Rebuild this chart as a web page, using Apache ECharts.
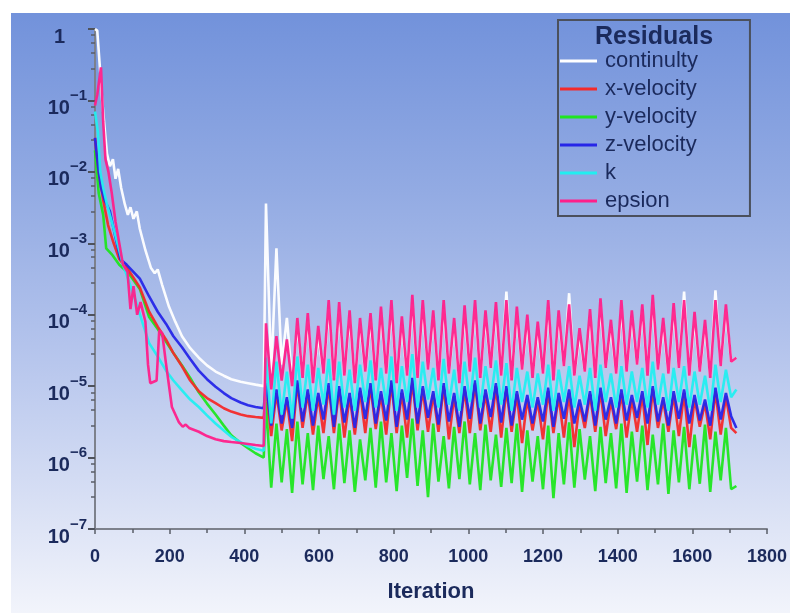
<!DOCTYPE html>
<html>
<head>
<meta charset="utf-8">
<script src="https://cdn.jsdelivr.net/npm/echarts/dist/echarts.min.js"></script>
<style>
  html, body { margin: 0; padding: 0; background: #ffffff; }
  #chart { position: absolute; left: 11px; top: 13px; width: 779px; height: 600px; }
</style>
</head>
<body>
<div id="chart"></div>
<script>
// ---- Residual history: initial steady run (ramp) then the transient cycles ----

// Ramp phase: [iteration, residual]
const continuityRamp = [[0,1.0],[6,0.95],[12,0.35],[18,0.12],[26,0.04],[32,0.018],[40,0.012],[48,0.015],[55,0.008],[62,0.011],[70,0.006],[80,0.0035],[88,0.0025],[95,0.0032],[103,0.0022],[112,0.0028],[120,0.0016],[135,8e-4],[150,4.5e-4],[160,3.8e-4],[168,4.3e-4],[180,2.6e-4],[198,1.3e-4],[215,8e-5],[233,5e-5],[255,3.4e-5],[278,2.5e-5],[300,1.95e-5],[323,1.6e-5],[345,1.4e-5],[365,1.25e-5],[390,1.15e-5],[410,1.1e-5],[430,1.05e-5],[452,1.0e-5]];
const xVelocityRamp = [[0,0.03],[10,0.01],[22,0.004],[35,0.0018],[50,0.001],[65,6e-4],[90,4.2e-4],[120,2.4e-4],[145,1.1e-4],[168,6.8e-5],[190,4.5e-5],[210,2.9e-5],[233,1.9e-5],[255,1.2e-5],[278,8.5e-6],[300,6.8e-6],[323,5.8e-6],[345,4.9e-6],[365,4.4e-6],[390,4.0e-6],[410,3.8e-6],[430,3.7e-6],[452,3.6e-6]];
const yVelocityRamp = [[0,0.02],[10,0.005],[22,0.0025],[30,8.5e-4],[45,7e-4],[65,5e-4],[90,3.8e-4],[120,2.3e-4],[145,9.3e-5],[168,6.3e-5],[190,4.2e-5],[210,2.9e-5],[233,1.95e-5],[255,1.3e-5],[278,8.2e-6],[300,5.7e-6],[323,4e-6],[345,2.8e-6],[365,2.05e-6],[390,1.6e-6],[410,1.35e-6],[430,1.15e-6],[452,1.0e-6]];
const zVelocityRamp = [[0,0.03],[8,0.012],[16,0.006],[26,0.004],[40,0.0028],[55,0.0012],[68,6e-4],[85,5e-4],[120,3.2e-4],[145,1.8e-4],[168,1.1e-4],[190,7.5e-5],[210,5e-5],[233,3.5e-5],[255,2.4e-5],[278,1.65e-5],[300,1.25e-5],[323,9.8e-6],[345,8e-6],[365,6.8e-6],[390,5.9e-6],[410,5.4e-6],[430,5.1e-6],[452,4.9e-6]];
const kRamp = [[0,0.07],[8,0.035],[14,0.01],[22,0.006],[32,0.0035],[45,0.002],[60,0.001],[75,5e-4],[90,3e-4],[110,1.5e-4],[130,7e-5],[145,4e-5],[168,2.6e-5],[190,1.66e-5],[210,1.2e-5],[233,8.7e-6],[255,6.5e-6],[278,5.1e-6],[300,3.9e-6],[323,3.0e-6],[345,2.4e-6],[365,1.95e-6],[390,1.65e-6],[410,1.45e-6],[430,1.33e-6],[452,1.25e-6]];
const epsionRamp = [[0,0.085],[6,0.12],[16,0.29],[22,0.05],[28,0.015],[36,0.01],[45,0.005],[55,0.002],[65,0.001],[75,5e-4],[87,4e-4],[95,1.2e-4],[103,2.5e-4],[113,1e-4],[122,1.5e-4],[135,8e-5],[142,2e-5],[148,1.1e-5],[165,1.2e-5],[172,6e-5],[180,5.5e-5],[190,2.1e-5],[206,5.1e-6],[225,3.1e-6],[235,2.7e-6],[243,2.9e-6],[252,2.6e-6],[278,2.3e-6],[300,2e-6],[323,1.8e-6],[345,1.7e-6],[365,1.65e-6],[390,1.6e-6],[410,1.55e-6],[430,1.5e-6],[452,1.45e-6]];

// Cyclic phase: shared iteration samples
const cycleIters = [458,472,486,500,514,528,542,556,570,584,598,612,626,640,654,668,682,696,710,724,738,752,766,780,794,808,822,836,850,864,878,892,906,920,934,948,962,976,990,1004,1018,1032,1046,1060,1074,1088,1102,1116,1130,1144,1158,1172,1186,1200,1214,1228,1242,1256,1270,1284,1298,1312,1326,1340,1354,1368,1382,1396,1410,1424,1438,1452,1466,1480,1494,1508,1522,1536,1550,1564,1578,1592,1606,1620,1634,1648,1662,1676,1690,1704,1718];

const continuityCycle = [3.6e-3,1.5e-5,8.5e-4,2e-5,9e-5,1.2e-5,7e-5,1.4e-5,8e-5,1.2e-5,
  5e-5,1.5e-5,1.2e-4,1.3e-5,1.1e-4,1.4e-5,9e-5,1.2e-5,7e-5,1.6e-5,
  8e-5,1.3e-5,1e-4,1.5e-5,1.2e-4,1.2e-5,7e-5,1.4e-5,1.4e-4,1.3e-5,
  1.2e-4,1.7e-5,9e-5,1.3e-5,1.2e-4,1.5e-5,7e-5,1.2e-5,1e-4,1.6e-5,
  1.2e-4,1.4e-5,9e-5,1.8e-5,1.1e-4,1.4e-5,2.1e-4,1.3e-5,1e-4,1.7e-5,
  7.5e-5,1.4e-5,6e-5,1.5e-5,1.2e-4,1.3e-5,9e-5,1.9e-5,2e-4,1.4e-5,
  5e-5,1.6e-5,9e-5,1.4e-5,1.3e-4,1.8e-5,6.5e-5,1.5e-5,1.2e-4,1.6e-5,
  9e-5,2e-5,1.1e-4,1.5e-5,1.4e-4,1.7e-5,7e-5,1.5e-5,1.1e-4,1.8e-5,
  2.1e-4,1.4e-5,8.5e-5,1.6e-5,6.5e-5,1.4e-5,2.2e-4,1.9e-5,1.1e-4,2.2e-5,
  2.5e-5];
const xVelocityCycle = [1e-5,2e-6,8e-6,2.4e-6,6.3e-6,1.7e-6,1.1e-5,2.6e-6,8e-6,2.1e-6,
  7.2e-6,2.2e-6,1e-5,2.2e-6,9e-6,1.9e-6,7.2e-6,2.1e-6,8.5e-6,2.2e-6,
  1e-5,2.5e-6,7.6e-6,2.1e-6,1.1e-5,2.2e-6,8e-6,1.9e-6,1.2e-5,2.4e-6,
  9e-6,2.3e-6,7.6e-6,2.3e-6,1e-5,1.8e-6,7.2e-6,2.2e-6,9e-6,2.2e-6,
  1.1e-5,2.4e-6,8e-6,2.3e-6,1e-5,1.9e-6,9e-6,2.3e-6,7.6e-6,1.6e-6,
  6.7e-6,2.4e-6,6.3e-6,1.8e-6,8.5e-6,2.2e-6,7.2e-6,1.9e-6,8e-6,1.4e-6,
  5.8e-6,2.6e-6,7.6e-6,2.3e-6,8.5e-6,2e-6,6.3e-6,2.5e-6,8e-6,1.9e-6,
  6.7e-6,2.3e-6,7.6e-6,1.5e-6,9e-6,2.6e-6,6.3e-6,2.3e-6,7.6e-6,2e-6,
  8e-6,1.4e-6,6.7e-6,2.7e-6,5.8e-6,1.8e-6,8.5e-6,2.1e-6,7.2e-6,2.6e-6,
  2.2e-6];
const yVelocityCycle = [6e-6,3.8e-7,3e-6,4.5e-7,2.5e-6,3.2e-7,3.2e-6,4.2e-7,2.2e-6,3.5e-7,
  2.8e-6,5e-7,2e-6,3.6e-7,3e-6,4.4e-7,2.4e-6,3.3e-7,1.8e-6,4.8e-7,
  2.6e-6,3.8e-7,3.2e-6,4.5e-7,2.2e-6,3.4e-7,2.8e-6,5.2e-7,3.5e-6,4e-7,
  2.4e-6,2.8e-7,3e-6,4.6e-7,2e-6,3.7e-7,2.7e-6,5e-7,3.2e-6,4.2e-7,
  2.2e-6,3.5e-7,2.9e-6,4.8e-7,2.1e-6,3.9e-7,2.6e-6,4.4e-7,3e-6,3.3e-7,
  2.4e-6,4.6e-7,2e-6,3.6e-7,2.8e-6,2.7e-7,2.2e-6,4.2e-7,3.1e-6,3.8e-7,
  2.5e-6,4.9e-7,2e-6,3.4e-7,2.7e-6,4.4e-7,2.2e-6,3.7e-7,3e-6,3.2e-7,
  2.3e-6,4.6e-7,2.8e-6,3.5e-7,2.1e-6,4.2e-7,3e-6,3.1e-7,2.4e-6,4.5e-7,
  2.7e-6,3.6e-7,2.1e-6,4.3e-7,2.9e-6,3.3e-7,2.3e-6,4.8e-7,2.6e-6,3.6e-7,
  4e-7];
const zVelocityCycle = [1.1e-5,2.8e-6,9e-6,3e-6,7e-6,2.6e-6,1.2e-5,3.2e-6,9e-6,2.8e-6,
  8e-6,3.4e-6,1.1e-5,2.7e-6,1e-5,3.1e-6,8e-6,2.6e-6,9.5e-6,3.5e-6,
  1.1e-5,3e-6,8.5e-6,3.3e-6,1.2e-5,2.7e-6,9e-6,3.4e-6,1.3e-5,3e-6,
  1e-5,3.6e-6,8.5e-6,2.9e-6,1.1e-5,3.2e-6,8e-6,2.7e-6,1e-5,3.5e-6,
  1.2e-5,3e-6,9e-6,3.7e-6,1.1e-5,3.1e-6,1e-5,2.8e-6,8.5e-6,3.4e-6,
  7.5e-6,3e-6,7e-6,3.2e-6,9.5e-6,2.7e-6,8e-6,3.5e-6,9e-6,3e-6,
  6.5e-6,3.2e-6,8.5e-6,2.8e-6,9.5e-6,3.4e-6,7e-6,3e-6,9e-6,3.3e-6,
  7.5e-6,3.6e-6,8.5e-6,3e-6,1e-5,3.2e-6,7e-6,2.8e-6,8.5e-6,3.5e-6,
  9e-6,3e-6,7.5e-6,3.3e-6,6.5e-6,2.8e-6,9.5e-6,3.4e-6,8e-6,3.8e-6,
  2.6e-6];
const kCycle = [2.5e-5,3e-6,2.2e-5,4e-6,1.6e-5,3.5e-6,2.6e-5,5e-6,2e-5,4.5e-6,
  1.8e-5,5.5e-6,2.4e-5,4e-6,2.2e-5,5e-6,1.7e-5,4.5e-6,2e-5,6e-6,
  2.3e-5,5e-6,1.8e-5,5.5e-6,2.6e-5,4.5e-6,1.9e-5,6e-6,2.8e-5,5e-6,
  2.2e-5,6.5e-6,1.8e-5,5e-6,2.4e-5,5.5e-6,1.7e-5,4.5e-6,2.2e-5,6e-6,
  2.5e-5,5e-6,1.9e-5,6.5e-6,2.3e-5,5.5e-6,2.1e-5,4.5e-6,1.8e-5,6e-6,
  1.6e-5,5e-6,1.5e-5,5.5e-6,2e-5,4.5e-6,1.7e-5,6e-6,1.9e-5,5e-6,
  1.4e-5,5.5e-6,1.8e-5,4.5e-6,2e-5,6e-6,1.5e-5,5e-6,1.9e-5,5.5e-6,
  1.6e-5,6e-6,1.8e-5,5e-6,2.2e-5,5.5e-6,1.5e-5,4.5e-6,1.8e-5,6e-6,
  1.9e-5,5e-6,1.6e-5,5.5e-6,1.4e-5,4.5e-6,2e-5,6e-6,1.7e-5,7e-6,
  9e-6];
const epsionCycle = [7.6e-5,9e-6,5e-5,1.2e-5,4.5e-5,1e-5,9e-5,1.3e-5,1.05e-4,1.1e-5,
  7e-5,1.5e-5,1.6e-4,1.2e-5,1.5e-4,1.4e-5,1.15e-4,1.1e-5,9e-5,1.6e-5,
  1.05e-4,1.2e-5,1.3e-4,1.5e-5,1.6e-4,1.1e-5,9.5e-5,1.4e-5,1.9e-4,1.3e-5,
  1.6e-4,1.7e-5,1.15e-4,1.2e-5,1.6e-4,1.5e-5,9e-5,1.1e-5,1.35e-4,1.6e-5,
  1.6e-4,1.3e-5,1.15e-4,1.8e-5,1.5e-4,1.4e-5,1.6e-4,1.2e-5,1.3e-4,1.7e-5,
  1.0e-4,1.3e-5,8e-5,1.5e-5,1.6e-4,1.2e-5,1.15e-4,1.9e-5,1.4e-4,1.4e-5,
  6.5e-5,1.6e-5,1.2e-4,1.3e-5,1.7e-4,1.8e-5,8.5e-5,1.5e-5,1.6e-4,1.6e-5,
  1.15e-4,2e-5,1.4e-4,1.4e-5,1.9e-4,1.7e-5,9e-5,1.5e-5,1.45e-4,1.8e-5,
  1.6e-4,1.4e-5,1.1e-4,1.6e-5,8.5e-5,1.3e-5,1.6e-4,1.9e-5,1.4e-4,2.2e-5,
  2.5e-5];

const legendNames = ['continulty', 'x-velocity', 'y-velocity', 'z-velocity', 'k', 'epsion'];
const yTickExponents = [0, -1, -2, -3, -4, -5, -6, -7];

function history(ramp, cycle) {
  return ramp.concat(cycleIters.map((it, i) => [it, cycle[i]]));
}

const navy = '#1b2a5c';
const axisGray = '#7d818c';

function residualSeries(name, color, data) {
  return {
    name: name,
    type: 'line',
    data: data,
    showSymbol: false,
    symbol: 'none',
    animation: false,
    lineStyle: { color: color, width: 2.6, opacity: 0.95 },
    itemStyle: { color: color }
  };
}

const chart = echarts.init(document.getElementById('chart'), null, { renderer: 'canvas' });

chart.setOption({
  backgroundColor: new echarts.graphic.LinearGradient(0, 0, 0, 1, [
    { offset: 0, color: '#7292db' },
    { offset: 0.3, color: '#93abe3' },
    { offset: 0.55, color: '#b3c3ec' },
    { offset: 0.8, color: '#d6def4' },
    { offset: 1, color: '#f2f4fb' }
  ]),
  animation: false,
  title: {
    text: 'Residuals',
    left: 579,
    top: 7,
    textStyle: { fontFamily: 'Liberation Sans', fontWeight: 'bold', fontSize: 25, color: navy }
  },
  legend: {
    data: legendNames,
    orient: 'vertical',
    left: 547,
    top: 7,
    padding: [30, 52, 4, 2],
    itemGap: 6,
    itemWidth: 37,
    itemHeight: 3,
    icon: 'rect',
    borderColor: '#4b505c',
    borderWidth: 2,
    textStyle: {
      fontFamily: 'Liberation Sans',
      fontSize: 22,
      lineHeight: 22,
      color: navy,
      padding: [0, 0, 0, 3]
    }
  },
  grid: { left: 84, right: 15, top: 16, bottom: 84, containLabel: false },
  xAxis: {
    type: 'value',
    min: 0,
    max: 1800,
    interval: 200,
    name: 'Iteration',
    nameLocation: 'middle',
    nameGap: 52,
    nameTextStyle: { fontFamily: 'Liberation Sans', fontWeight: 'bold', fontSize: 22, color: navy },
    axisLine: { show: true, onZero: false, lineStyle: { color: axisGray, width: 2 } },
    axisTick: { show: true, length: 5, lineStyle: { color: '#5a5e68', width: 1.5 } },
    minorTick: { show: true, splitNumber: 2, length: 4, lineStyle: { color: '#5a5e68', width: 1.5 } },
    splitLine: { show: false },
    axisLabel: {
      margin: 19,
      formatter: function (value) { return String(value); },
      fontFamily: 'Liberation Sans',
      fontWeight: 'bold',
      fontSize: 18,
      color: navy
    }
  },
  yAxis: {
    type: 'log',
    logBase: 10,
    min: 1e-7,
    max: 1,
    interval: 1,
    axisLine: { show: true, lineStyle: { color: axisGray, width: 2 } },
    axisTick: { show: true, length: 7, lineStyle: { color: '#4e525c', width: 2 } },
    minorTick: { show: true, splitNumber: 5, length: 4, lineStyle: { color: '#5a5e68', width: 1.5 } },
    splitLine: { show: false },
    axisLabel: {
      margin: 8,
      padding: [6, 0, 0, 0],
      formatter: function (value) {
        const e = Math.round(Math.log10(value));
        if (yTickExponents.indexOf(e) < 0) return '';
        if (e === 0) return '{one|1}';
        return '{base|10}{sup|\u2212' + Math.abs(e) + '}';
      },
      rich: {
        one: { fontFamily: 'Liberation Sans', fontWeight: 'bold', fontSize: 20, color: navy, padding: [0, 22, 0, 0], lineHeight: 30, verticalAlign: 'bottom' },
        base: { fontFamily: 'Liberation Sans', fontWeight: 'bold', fontSize: 20, color: navy, lineHeight: 30, verticalAlign: 'bottom' },
        sup: { fontFamily: 'Liberation Sans', fontWeight: 'bold', fontSize: 15, color: navy, lineHeight: 16, verticalAlign: 'top' }
      }
    }
  },
  series: [
    residualSeries('continulty', '#ffffff', history(continuityRamp, continuityCycle)),
    residualSeries('y-velocity', '#1fe61f', history(yVelocityRamp, yVelocityCycle)),
    residualSeries('x-velocity', '#f42a2a', history(xVelocityRamp, xVelocityCycle)),
    residualSeries('z-velocity', '#2626e8', history(zVelocityRamp, zVelocityCycle)),
    residualSeries('k', '#22eef0', history(kRamp, kCycle)),
    residualSeries('epsion', '#ff1f8a', history(epsionRamp, epsionCycle))
  ]
});
</script>
</body>
</html>
